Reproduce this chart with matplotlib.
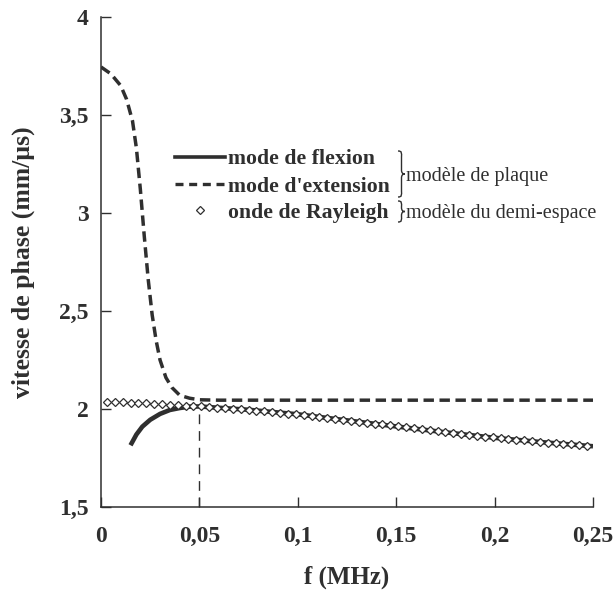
import matplotlib
matplotlib.use("Agg")
import matplotlib.pyplot as plt
from matplotlib.lines import Line2D
from matplotlib.path import Path
from matplotlib.patches import PathPatch

plt.rcParams['font.family'] = ['Liberation Serif', 'DejaVu Serif']

# ---------------- data ----------------
ext_f = [0.0, 0.005, 0.010, 0.013, 0.016, 0.018, 0.020, 0.022, 0.024, 0.026,
         0.028, 0.030, 0.033, 0.036, 0.040, 0.045, 0.050, 0.060, 0.250]
ext_v = [3.745, 3.71, 3.65, 3.58, 3.47, 3.33, 3.12, 2.88, 2.66, 2.48,
         2.35, 2.25, 2.16, 2.11, 2.07, 2.055, 2.047, 2.045, 2.045]

flex_f = [0.015, 0.018, 0.021, 0.025, 0.030, 0.035, 0.040, 0.045, 0.050,
          0.075, 0.100, 0.125, 0.150, 0.175, 0.200, 0.225, 0.250]
flex_v = [1.815, 1.87, 1.91, 1.945, 1.975, 1.995, 2.005, 2.012, 2.013,
          1.996, 1.973, 1.942, 1.911, 1.881, 1.853, 1.830, 1.810]

ray_f = [0.003, 0.007, 0.011, 0.015, 0.019, 0.023, 0.027, 0.031, 0.035, 0.039,
         0.043, 0.047, 0.051, 0.055, 0.059, 0.063, 0.067, 0.071, 0.075, 0.079,
         0.083, 0.087, 0.091, 0.095, 0.099, 0.103, 0.107, 0.111, 0.115, 0.119,
         0.123, 0.127, 0.131, 0.135, 0.139, 0.143, 0.147, 0.151, 0.155, 0.159,
         0.163, 0.167, 0.171, 0.175, 0.179, 0.183, 0.187, 0.191, 0.195, 0.199,
         0.203, 0.207, 0.211, 0.215, 0.219, 0.223, 0.227, 0.231, 0.235, 0.239,
         0.243, 0.247]
ray_v = [2.036, 2.035, 2.034, 2.033, 2.031, 2.029, 2.027, 2.025, 2.022, 2.020,
         2.017, 2.015, 2.013, 2.010, 2.007, 2.004, 2.001, 1.998, 1.995, 1.992,
         1.988, 1.984, 1.981, 1.977, 1.973, 1.968, 1.964, 1.960, 1.955, 1.950,
         1.946, 1.941, 1.936, 1.931, 1.926, 1.921, 1.916, 1.911, 1.906, 1.901,
         1.896, 1.891, 1.887, 1.882, 1.877, 1.872, 1.868, 1.863, 1.859, 1.855,
         1.851, 1.847, 1.843, 1.840, 1.836, 1.832, 1.829, 1.826, 1.823, 1.820,
         1.817, 1.813]

marker_f = [0.05, 0.05]
marker_v = [1.5, 2.02]

xticks = [0, 0.05, 0.10, 0.15, 0.20, 0.25]
xticklabels = ['0', '0,05', '0,1', '0,15', '0,2', '0,25']
yticks = [1.5, 2.0, 2.5, 3.0, 3.5, 4.0]
yticklabels = ['1,5', '2', '2,5', '3', '3,5', '4']

labels = ['mode de flexion', "mode d'extension", 'onde de Rayleigh']
group_labels = ['modèle de plaque', 'modèle du demi-espace']

# ---------------- figure ----------------
W, H = 615, 595
fig = plt.figure(figsize=(W / 100, H / 100), dpi=100)
C = '#2f2f2f'

def fx(px):
    return px / W

def fy(py):
    return 1 - py / H

ax = fig.add_axes([fx(101), fy(507), fx(593) - fx(101), fy(17) - fy(507)])
ax.set_xlim(0, 0.25)
ax.set_ylim(1.5, 4.0)

ax.plot(ext_f, ext_v, color=C, lw=2.5, dashes=(3.0, 1.6), solid_capstyle='butt',
        dash_capstyle='butt', zorder=3)
ax.plot(flex_f, flex_v, color=C, lw=3.3, solid_capstyle='butt', zorder=3)
ax.plot(ray_f, ray_v, linestyle='none', marker='D', markersize=3.8,
        markerfacecolor='white', markeredgecolor=C, markeredgewidth=0.9, zorder=4)
ax.plot(marker_f, marker_v, color=C, lw=1.0, dashes=(7, 5), zorder=2)

for s in ['top', 'right']:
    ax.spines[s].set_visible(False)
for s in ['left', 'bottom']:
    ax.spines[s].set_color(C)
    ax.spines[s].set_linewidth(1.1)

ax.set_xticks(xticks)
ax.set_xticklabels(xticklabels)
ax.set_yticks(yticks)
ax.set_yticklabels(yticklabels)
ax.tick_params(axis='both', direction='in', length=7, width=1.0, color=C,
               labelsize=17, labelcolor=C)
ax.tick_params(axis='x', pad=14)
ax.tick_params(axis='y', pad=9)
for t in ax.get_xticklabels() + ax.get_yticklabels():
    t.set_fontweight('bold')

ax.set_xlabel('f (MHz)', fontsize=18, fontweight='bold', color=C)
ax.set_ylabel('vitesse de phase (mm/µs)', fontsize=18.5, fontweight='bold', color=C)
ax.xaxis.set_label_coords(0.5, (507 - 566) / 490)
ax.yaxis.set_label_coords((35 - 101) / 492, 0.5)

# ---------------- custom legend ----------------
fig.add_artist(Line2D([fx(175), fx(225)], [fy(157), fy(157)], color=C, lw=2.6,
                      transform=fig.transFigure))
fig.add_artist(Line2D([fx(175), fx(225)], [fy(184), fy(184)], color=C, lw=2.4,
                      dashes=(2.4, 1.7), transform=fig.transFigure))
fig.add_artist(Line2D([fx(200)], [fy(210)], linestyle='none', marker='D',
                      markersize=3.8, markerfacecolor='white', markeredgecolor=C,
                      markeredgewidth=0.9, transform=fig.transFigure))

for lab, py in zip(labels, [157, 184, 210]):
    fig.text(fx(228), fy(py), lab, fontsize=15.7, fontweight='bold', color=C,
             ha='left', va='center_baseline')


def brace(x0, ytop, ybot, w):
    ym = (ytop + ybot) / 2
    verts = [
        (x0, ytop),
        (x0 + w * 0.6, ytop), (x0 + w * 0.5, ytop + 2), (x0 + w * 0.5, ytop + 6),
        (x0 + w * 0.5, ym - 4),
        (x0 + w * 0.5, ym - 1), (x0 + w * 0.7, ym), (x0 + w, ym),
        (x0 + w * 0.7, ym), (x0 + w * 0.5, ym + 1), (x0 + w * 0.5, ym + 4),
        (x0 + w * 0.5, ybot - 6),
        (x0 + w * 0.5, ybot - 2), (x0 + w * 0.6, ybot), (x0, ybot),
    ]
    codes = [Path.MOVETO,
             Path.CURVE4, Path.CURVE4, Path.CURVE4,
             Path.LINETO,
             Path.CURVE4, Path.CURVE4, Path.CURVE4,
             Path.CURVE4, Path.CURVE4, Path.CURVE4,
             Path.LINETO,
             Path.CURVE4, Path.CURVE4, Path.CURVE4]
    pts = [(fx(x), fy(y)) for x, y in verts]
    fig.add_artist(PathPatch(Path(pts, codes), facecolor='none', edgecolor=C,
                             lw=1.0, transform=fig.transFigure))


brace(398, 151, 197, 7)
brace(398, 201, 222, 7)

fig.text(fx(406), fy(174), group_labels[0], fontsize=14.5, color=C,
         ha='left', va='center_baseline')
fig.text(fx(406), fy(211), group_labels[1], fontsize=14.5, color=C,
         ha='left', va='center_baseline')

fig.savefig('out.png', dpi=100)
